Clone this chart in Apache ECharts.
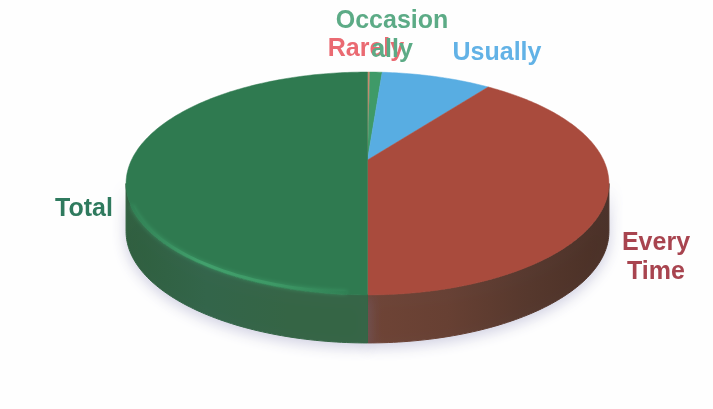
<!DOCTYPE html>
<html><head><meta charset="utf-8">
<style>html,body{margin:0;padding:0;background:#fefefe}#c{width:713px;height:409px}</style>
<script src="https://cdn.jsdelivr.net/npm/echarts@6/dist/echarts.min.js"></script>
</head><body><div id="c"></div>
<script>
const categories = ['Rarely', 'Occasionally', 'Usually', 'Every Time', 'Total'];
const values = [0.2, 1.0, 9.0, 39.8, 50.0];
const labelTexts = ['Rarely', 'Occasion\nally', 'Usually', 'Every\nTime', 'Total'];
const topColors = ['#c98a6e', '#3f9a68', '#58ade2', '#a94b3d', '#2f7a50'];
const labelColors = ['#ea6a72', '#5cab86', '#62b2e6', '#a8444f', '#2f7a5e'];

const total = values.reduce((a, b) => a + b, 0);
const view = { cx: 367.5, apexY: 160, a: 106.5, b: 236, k: 0.2108, depth: 48 };
const sideLimit = Math.acos(-view.k) * 180 / Math.PI;

function project(deg, drop) {
  const t = deg * Math.PI / 180, X = Math.sin(t), Y = Math.cos(t), w = 1 + view.k * Y;
  return [view.cx + view.b * X / w, view.apexY - view.a * Y / w + (drop || 0)];
}
function arc(from, to, drop) {
  const out = [], n = Math.max(2, Math.ceil(Math.abs(to - from)));
  for (let i = 0; i <= n; i++) out.push(project(from + (to - from) * i / n, drop));
  return out;
}
function grad(x0, y0, x1, y1, stops) {
  return new echarts.graphic.LinearGradient(x0, y0, x1, y1, stops.map((c, i) => ({ offset: i / (stops.length - 1), color: c })));
}
const wallFills = {
  3: () => grad(0, 0, 1, 0, ['#6f4436', '#674033', '#56382d', '#4a3026']),
  4: () => grad(0, 0, 1, 0, ['#2f5f3e', '#33654a', '#356545', '#356545'])
};

function renderItem(params, api) {
  const i = params.dataIndex;
  let start = 0;
  for (let j = 0; j < i; j++) start += values[j];
  const from = start / total * 360, to = (start + api.value(1)) / total * 360;
  const children = [];
  const wFrom = Math.max(from, sideLimit), wTo = Math.min(to, 360 - sideLimit);
  if (wTo > wFrom) {
    const fill = wallFills[i]();
    children.push({
      type: 'polygon',
      shape: { points: arc(wFrom, wTo, 0).concat(arc(wTo, wFrom, view.depth)) },
      style: { fill, stroke: fill, lineWidth: 1, shadowBlur: 14, shadowColor: 'rgba(120,120,170,0.35)', shadowOffsetY: 4 }
    });
  }
  const base = [view.cx, view.apexY];
  children.push({
    type: 'polygon',
    shape: { points: [base].concat(arc(from, to, 0)) },
    style: { fill: topColors[i], stroke: topColors[i], lineWidth: 0.5 }
  });
  if (i === 4) {
    children.push({
      type: 'polyline',
      shape: { points: arc(184, 246, -2) },
      style: { fill: null, stroke: grad(1, 0, 0, 0, ['#2f7d52', '#3f9c68', '#45a671', '#2f7d52']), lineWidth: 3, opacity: 0.8, shadowBlur: 4, shadowColor: '#3fa06c' }
    });
  }
  return { type: 'group', children };
}

const labelPlaces = [[366, 49], [392, 36], [497, 53], [656, 258], [84, 209]];
const chart = echarts.init(document.getElementById('c'), null, { renderer: 'canvas' });
chart.setOption({
  animation: false,
  backgroundColor: '#fefefe',
  series: [{
    type: 'custom',
    coordinateSystem: 'none',
    renderItem,
    data: categories.map((c, i) => ({ name: c, value: [i, values[i]] }))
  }],
  graphic: labelTexts.map((t, i) => ({
    type: 'text', x: labelPlaces[i][0], y: labelPlaces[i][1], z: 10,
    style: {
      text: t, fill: labelColors[i], font: 'bold 25px "Liberation Sans", Arial, sans-serif',
      align: 'center', verticalAlign: 'middle', lineHeight: 29
    }
  }))
});
</script></body></html>
